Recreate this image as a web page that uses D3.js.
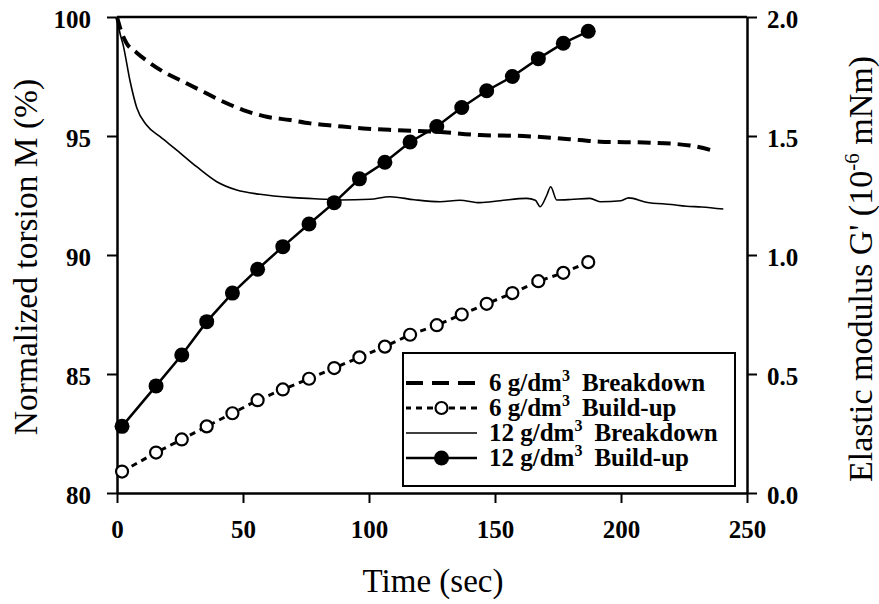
<!DOCTYPE html>
<html>
<head>
<meta charset="utf-8">
<script src="https://cdn.jsdelivr.net/npm/d3@7"></script>
<style>
  body { margin: 0; background: #fff; }
</style>
</head>
<body>
<div id="chart"></div>
<script>
// build-up measurements (sampled every ~10 s)
const buildTimes = [2, 15.5, 25.7, 35.6, 45.8, 55.8, 65.8, 76.2, 86.2, 96.2, 106.3, 116.3, 126.9, 136.8, 146.7, 156.9, 167.2, 177.1, 187];
const build12 = [0.28, 0.45, 0.58, 0.72, 0.84, 0.94, 1.035, 1.13, 1.22, 1.32, 1.39, 1.475, 1.54, 1.62, 1.69, 1.75, 1.825, 1.89, 1.94];
const build6 = [0.09, 0.17, 0.225, 0.28, 0.335, 0.39, 0.435, 0.48, 0.525, 0.57, 0.615, 0.665, 0.705, 0.75, 0.795, 0.84, 0.89, 0.925, 0.97];

// breakdown curves (normalized torsion, %)
const break6Times = [0, 2, 3.8, 7.8, 12, 18.4, 26.3, 34.2, 42.2, 50.1, 59.4, 68.7, 76.6, 87.2, 97.7, 109.6, 126.9, 144, 161.2, 183.7, 191.7, 211.5, 227.4, 238];
const break6 = [100, 99.3, 98.9, 98.5, 98.15, 97.7, 97.28, 96.86, 96.44, 96.09, 95.81, 95.67, 95.53, 95.42, 95.32, 95.25, 95.18, 95.04, 95.0, 94.83, 94.76, 94.72, 94.6, 94.34];
const break12Times = [0, 1, 2.5, 5.2, 7.8, 11.8, 17.1, 23.7, 31.6, 39.6, 47.5, 56.7, 70, 83.2, 88.5, 100.4, 108.3, 118, 128.2, 136, 144, 152, 162.6, 166, 167.9, 170.5, 172.1, 174.5, 180, 187.7, 191.7, 200, 203, 210, 220, 226, 232, 240.6];
const break12 = [100, 99.4, 98.8, 97.3, 96.2, 95.45, 94.97, 94.41, 93.71, 93.08, 92.73, 92.55, 92.41, 92.34, 92.31, 92.34, 92.45, 92.32, 92.24, 92.3, 92.2, 92.28, 92.38, 92.3, 92.03, 92.5, 92.87, 92.31, 92.33, 92.38, 92.24, 92.28, 92.4, 92.22, 92.12, 92.05, 92.02, 91.93];

const xTicks = [0, 50, 100, 150, 200, 250];
const yLeftTicks = [80, 85, 90, 95, 100];
const yRightTicks = [0, 0.5, 1.0, 1.5, 2.0];

const legendItems = ["6 g/dm|Breakdown", "6 g/dm|Build-up", "12 g/dm|Breakdown", "12 g/dm|Build-up"];

const width = 879;
const height = 604;
const margin = { top: 17, right: 132, bottom: 111, left: 117 };
const FONT = "Liberation Serif";

const svg = d3.select("#chart").append("svg")
  .attr("width", width)
  .attr("height", height)
  .attr("font-family", FONT);

const x = d3.scaleLinear().domain([0, 250]).range([margin.left, width - margin.right]);
const yL = d3.scaleLinear().domain([80, 100]).range([height - margin.bottom, margin.top]);
const yR = d3.scaleLinear().domain([0, 2]).range([height - margin.bottom, margin.top]);

// frame top line
svg.append("line")
  .attr("x1", x(0)).attr("x2", x(250))
  .attr("y1", yL(100)).attr("y2", yL(100))
  .attr("stroke", "#000").attr("stroke-width", 2.5);

function styleAxis(g) {
  g.attr("font-family", FONT);
  g.select(".domain").attr("stroke-width", 2.5);
  g.selectAll(".tick line").attr("stroke-width", 2);
  g.selectAll(".tick text")
    .attr("font-family", FONT)
    .attr("font-size", 25)
    .attr("font-weight", "bold");
}

svg.append("g")
  .attr("transform", `translate(0,${yL(80)})`)
  .call(d3.axisBottom(x).tickValues(xTicks).tickSize(10).tickPadding(17).tickSizeOuter(0).tickFormat(d3.format("d")))
  .call(styleAxis);

svg.append("g")
  .attr("transform", `translate(${x(0)},0)`)
  .call(d3.axisLeft(yL).tickValues(yLeftTicks).tickSize(10).tickPadding(16).tickSizeOuter(0).tickFormat(d3.format("d")))
  .call(styleAxis)
  .call(g => g.selectAll(".tick text").attr("dy", "0.4em"));

svg.append("g")
  .attr("transform", `translate(${x(250)},0)`)
  .call(d3.axisRight(yR).tickValues(yRightTicks).tickSize(10).tickPadding(10).tickSizeOuter(0).tickFormat(d3.format(".1f")))
  .call(styleAxis)
  .call(g => g.selectAll(".tick text").attr("dy", "0.4em"));

// breakdown curves
const lineL = d3.line().x(d => x(d[0])).y(d => yL(d[1])).curve(d3.curveMonotoneX);
const lineR = d3.line().x(d => x(d[0])).y(d => yR(d[1]));

svg.append("path")
  .datum(d3.zip(break12Times, break12))
  .attr("d", lineL)
  .attr("fill", "none").attr("stroke", "#000").attr("stroke-width", 1.6);

svg.append("path")
  .datum(d3.zip(break6Times, break6))
  .attr("d", lineL)
  .attr("fill", "none").attr("stroke", "#000").attr("stroke-width", 4)
  .attr("stroke-dasharray", "13,7");

// build-up curves
svg.append("path")
  .datum(d3.zip(buildTimes, build6))
  .attr("d", lineR)
  .attr("fill", "none").attr("stroke", "#000").attr("stroke-width", 3)
  .attr("stroke-dasharray", "6,5");

svg.append("g")
  .selectAll("circle")
  .data(d3.zip(buildTimes, build6))
  .join("circle")
  .attr("cx", d => x(d[0])).attr("cy", d => yR(d[1]))
  .attr("r", 6).attr("fill", "#fff").attr("stroke", "#000").attr("stroke-width", 2.2);

svg.append("path")
  .datum(d3.zip(buildTimes, build12))
  .attr("d", lineR)
  .attr("fill", "none").attr("stroke", "#000").attr("stroke-width", 2.5);

svg.append("g")
  .selectAll("circle")
  .data(d3.zip(buildTimes, build12))
  .join("circle")
  .attr("cx", d => x(d[0])).attr("cy", d => yR(d[1]))
  .attr("r", 7.5).attr("fill", "#000");

// axis titles
svg.append("text")
  .attr("transform", `translate(37,${(yL(80) + yL(100)) / 2 + 2}) rotate(-90)`)
  .attr("text-anchor", "middle")
  .attr("font-family", FONT)
  .attr("font-size", 33.5)
  .text("Normalized torsion M (%)");

const rt = svg.append("text")
  .attr("transform", `translate(872,${(yL(80) + yL(100)) / 2 + 14}) rotate(-90)`)
  .attr("text-anchor", "middle")
  .attr("font-family", FONT)
  .attr("font-size", 34);
rt.append("tspan").text("Elastic modulus G' (10");
rt.append("tspan").attr("font-size", 21).attr("dy", -13).text("-6");
rt.append("tspan").attr("dy", 13).text(" mNm)");

svg.append("text")
  .attr("x", (x(0) + x(250)) / 2 + 1)
  .attr("y", 592)
  .attr("text-anchor", "middle")
  .attr("font-family", FONT)
  .attr("font-size", 33)
  .text("Time (sec)");

// legend
const lg = svg.append("g").attr("font-family", FONT);
lg.append("rect")
  .attr("x", 403).attr("y", 353).attr("width", 332).attr("height", 133)
  .attr("fill", "#fff").attr("stroke", "#000").attr("stroke-width", 2);

const rowY = d => 383 + d * 25;
const sx0 = 406, sx1 = 477;

legendItems.forEach((item, i) => {
  const cy = rowY(i);
  const l = lg.append("line")
    .attr("x1", sx0).attr("x2", sx1).attr("y1", cy).attr("y2", cy)
    .attr("stroke", "#000");
  if (i === 0) l.attr("stroke-width", 4).attr("stroke-dasharray", "17,9");
  if (i === 1) l.attr("stroke-width", 3).attr("stroke-dasharray", "6,5").attr("stroke-dashoffset", 1);
  if (i === 2) l.attr("stroke-width", 1.6);
  if (i === 3) l.attr("stroke-width", 2.5);
  if (i === 1) lg.append("circle").attr("cx", (sx0 + sx1) / 2).attr("cy", cy).attr("r", 6)
    .attr("fill", "#fff").attr("stroke", "#000").attr("stroke-width", 2.2);
  if (i === 3) lg.append("circle").attr("cx", (sx0 + sx1) / 2).attr("cy", cy).attr("r", 7.5).attr("fill", "#000");

  const [conc, label] = item.split("|");
  const t = lg.append("text")
    .attr("x", 489).attr("y", cy + 8)
    .attr("font-family", FONT)
    .attr("font-size", 25).attr("font-weight", "bold");
  t.append("tspan").text(conc);
  t.append("tspan").attr("font-size", 16).attr("dy", -10).text("3");
  const w = t.node().getComputedTextLength();
  lg.append("text")
    .attr("x", 489 + w + 12).attr("y", cy + 8)
    .attr("font-family", FONT)
    .attr("font-size", 25).attr("font-weight", "bold")
    .text(label);
});
</script>
</body>
</html>
